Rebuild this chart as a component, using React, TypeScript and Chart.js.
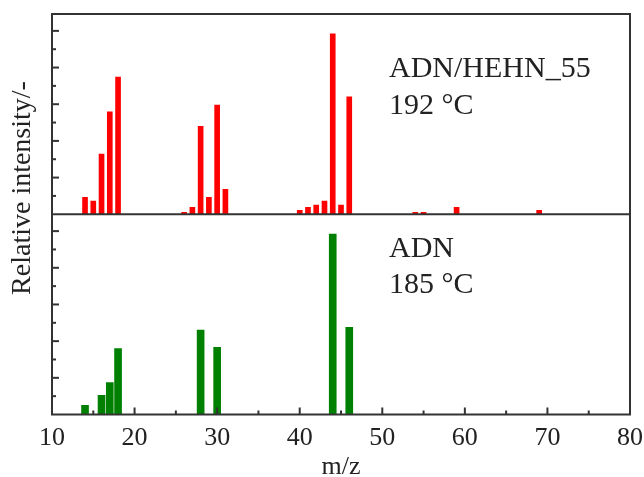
import React, { useEffect, useRef } from "react";
import { Chart, registerables } from "chart.js";

Chart.register(...registerables);

// ---- data ----
const topMz = [14, 15, 16, 17, 18, 26, 27, 28, 29, 30, 31, 40, 41, 42, 43, 44, 45, 46, 54, 55, 59, 69];
const topIntensity = [0.46, 0.36, 1.64, 2.79, 3.74, 0.05, 0.19, 2.4, 0.46, 2.98, 0.68, 0.11, 0.19, 0.25, 0.36, 4.92, 0.25, 3.2, 0.05, 0.05, 0.19, 0.11];
const bottomMz = [14, 16, 17, 18, 28, 30, 44, 46];
const bottomIntensity = [0.25, 0.52, 0.87, 1.8, 2.3, 1.83, 4.92, 2.38];
const xTickLabels = ["10", "20", "30", "40", "50", "60", "70", "80"];
const topText = ["ADN/HEHN_55", "192 °C"];
const bottomText = ["ADN", "185 °C"];
const yTitle = "Relative intensity/-";
const xTitle = "m/z";

const X_MIN = 10;
const X_MAX = 80;
const Y_MAX = 5.46;
const FONT = '"Liberation Serif", "Times New Roman", serif';

const framePlugin = {
  id: "framePlugin",
  afterDatasetsDraw(chart: any) {
    const { ctx, chartArea: a, scales } = chart;
    const xs = scales.x;
    const yT = scales.yTop;
    const yB = scales.yBot;
    const line = (x1: number, y1: number, x2: number, y2: number) => {
      ctx.beginPath();
      ctx.moveTo(x1, y1);
      ctx.lineTo(x2, y2);
      ctx.stroke();
    };
    ctx.save();
    ctx.strokeStyle = "#333";
    ctx.lineWidth = 2;
    ctx.strokeRect(a.left, a.top, a.right - a.left, a.bottom - a.top);
    const sep = yT.getPixelForValue(0);
    line(a.left, sep, a.right, sep);
    // y ticks (inward)
    for (const s of [yT, yB]) {
      for (let i = 1; i <= 10; i++) {
        const v = i * 0.5;
        const len = i % 2 === 0 ? 7 : 4;
        const p = s.getPixelForValue(v);
        line(a.left, p, a.left + len, p);
      }
    }
    // x ticks (inward, bottom)
    for (let v = X_MIN + 5; v < X_MAX; v += 5) {
      const len = v % 10 === 0 ? 7 : 4;
      const p = xs.getPixelForValue(v);
      line(p, a.bottom, p, a.bottom - len);
    }
    // annotations
    ctx.fillStyle = "#222";
    ctx.textAlign = "left";
    ctx.textBaseline = "alphabetic";
    ctx.font = `30px ${FONT}`;
    const tx = a.left + 337;
    ctx.fillText(topText[0], tx, a.top + 63);
    ctx.fillText(topText[1], tx, a.top + 100);
    ctx.fillText(bottomText[0], tx, sep + 43);
    ctx.fillText(bottomText[1], tx, sep + 79);
    // y title
    ctx.font = `28px ${FONT}`;
    ctx.textAlign = "center";
    ctx.textBaseline = "middle";
    ctx.translate(23, 188);
    ctx.rotate(-Math.PI / 2);
    ctx.fillText(yTitle, 0, 0);
    ctx.restore();
  },
};

export default function App() {
  const ref = useRef<HTMLCanvasElement | null>(null);
  useEffect(() => {
    if (!ref.current) return;
    const chart = new Chart(ref.current, {
      type: "bar",
      data: {
        datasets: [
          {
            label: "ADN",
            data: bottomMz.map((m, i) => ({ x: m, y: bottomIntensity[i] })),
            backgroundColor: "#008000",
            borderWidth: 0,
            barThickness: 7,
            yAxisID: "yBot",
            stack: "p",
          },
          {
            label: "ADN/HEHN_55",
            data: topMz.map((m, i) => ({ x: m, y: topIntensity[i] })),
            backgroundColor: "#ff0000",
            borderWidth: 0,
            barThickness: 5,
            yAxisID: "yTop",
            stack: "p",
          },
        ],
      },
      options: {
        responsive: false,
        animation: false,
        devicePixelRatio: 1,
        layout: { padding: { left: 52, top: 14, right: 14, bottom: 0 } },
        plugins: { legend: { display: false }, tooltip: { enabled: false } },
        scales: {
          x: {
            type: "linear",
            min: X_MIN,
            max: X_MAX,
            offset: false,
            grid: { display: false, drawTicks: false },
            border: { display: false },
            ticks: {
              stepSize: 10,
              padding: 8,
              maxRotation: 0,
              autoSkip: false,
              color: "#222",
              font: { family: FONT, size: 26 },
              callback: (v: any) => {
                const idx = xTickLabels.indexOf(String(v));
                return idx >= 0 ? xTickLabels[idx] : "";
              },
            },
            title: {
              display: true,
              text: xTitle,
              color: "#222",
              font: { family: FONT, size: 26, lineHeight: 0.77 },
              padding: 0,
            },
            afterFit: (s: any) => {
              s.height = 62.5;
              s.paddingLeft = 0;
              s.paddingRight = 0;
            },
          },
          yBot: {
            type: "linear",
            display: false,
            position: "left",
            stack: "panels",
            stackWeight: 1,
            min: 0,
            max: Y_MAX,
          },
          yTop: {
            type: "linear",
            display: false,
            position: "left",
            stack: "panels",
            stackWeight: 1,
            min: 0,
            max: Y_MAX,
          },
        },
      } as any,
      plugins: [framePlugin],
    });
    return () => chart.destroy();
  }, []);
  return (
    <div style={{ position: "absolute", left: 0, top: 0, width: 644, height: 477, background: "#fff" }}>
      <canvas ref={ref} width={644} height={477} />
    </div>
  );
}
